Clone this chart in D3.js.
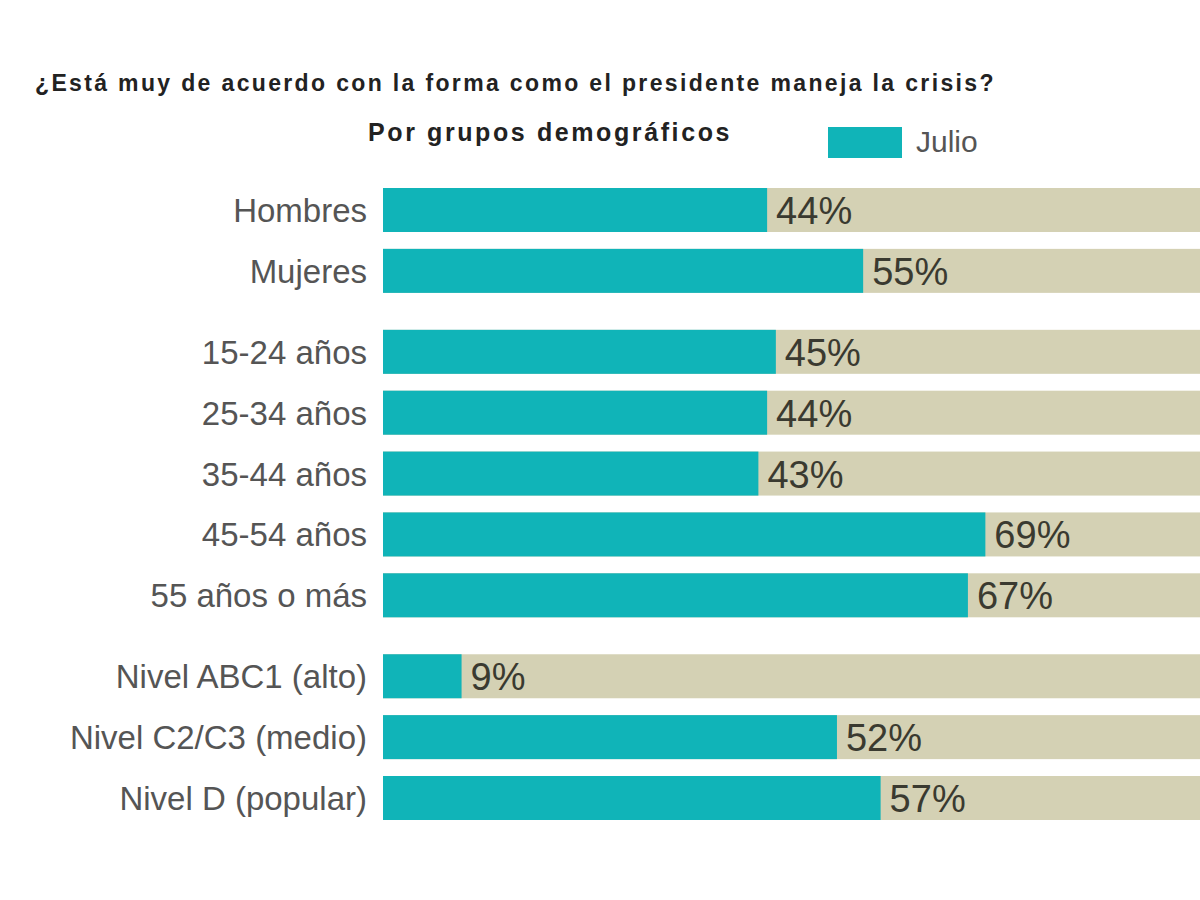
<!DOCTYPE html>
<html><head><meta charset="utf-8">
<script src="https://cdn.jsdelivr.net/npm/d3@7"></script>
<style>html,body{margin:0;padding:0;background:#fff;}svg{display:block;}</style>
</head><body>
<svg id="chart" width="1200" height="900"></svg>
<script>
const title = "¿Está muy de acuerdo con la forma como el presidente maneja la crisis?";
const subtitle = "Por grupos demográficos";
const seriesName = "Julio";
const categories = ["Hombres","Mujeres","15-24 años","25-34 años","35-44 años","45-54 años","55 años o más","Nivel ABC1 (alto)","Nivel C2/C3 (medio)","Nivel D (popular)"];
const groups = [0,0,1,1,1,1,1,2,2,2];
const values = [44,55,45,44,43,69,67,9,52,57];
const maxValue = 100;

const svg = d3.select("#chart");
const teal = "#10b4b8", beige = "#d4d1b4";
const gapRatio = 0.33;
const slot = categories.map((c,i)=> i + groups[i]*gapRatio);
const y = d3.scaleLinear().domain([0, d3.max(slot)]).range([210, 798]);
const x = d3.scaleLinear().domain([0, maxValue]).range([383, 1256]);
const barH = 44;

svg.append("text").attr("x",35).attr("y",91).text(title)
  .attr("font-family","Liberation Sans, Arial, sans-serif").attr("font-weight","bold")
  .attr("font-size",23).attr("letter-spacing",2.35).attr("fill","#222");
svg.append("text").attr("x",368).attr("y",141).text(subtitle)
  .attr("font-family","Liberation Sans, Arial, sans-serif").attr("font-weight","bold")
  .attr("font-size",25).attr("letter-spacing",2.6).attr("fill","#222");
svg.append("rect").attr("x",828).attr("y",127).attr("width",74).attr("height",31).attr("fill",teal);
svg.append("text").attr("x",916).attr("y",152).text(seriesName)
  .attr("font-family","Liberation Sans, Arial, sans-serif").attr("font-size",30).attr("fill","#555");

const rows = svg.append("g").selectAll("g").data(categories).join("g");
rows.append("rect").attr("x",x(0)).attr("y",(d,i)=>y(slot[i])-barH/2)
  .attr("width",x(maxValue)-x(0)).attr("height",barH).attr("fill",beige);
rows.append("rect").attr("x",x(0)).attr("y",(d,i)=>y(slot[i])-barH/2)
  .attr("width",(d,i)=>x(values[i])-x(0)).attr("height",barH).attr("fill",teal);
rows.append("text").attr("x",367).attr("y",(d,i)=>y(slot[i])+12).attr("text-anchor","end")
  .text(d=>d).attr("font-family","Liberation Sans, Arial, sans-serif").attr("font-size",33).attr("fill","#555");
rows.append("text").attr("x",(d,i)=>x(values[i])+9).attr("y",(d,i)=>y(slot[i])+14)
  .text((d,i)=>values[i]+"%").attr("font-family","Liberation Sans, Arial, sans-serif").attr("font-size",38).attr("fill","#3a3a30");
</script>
</body></html>
